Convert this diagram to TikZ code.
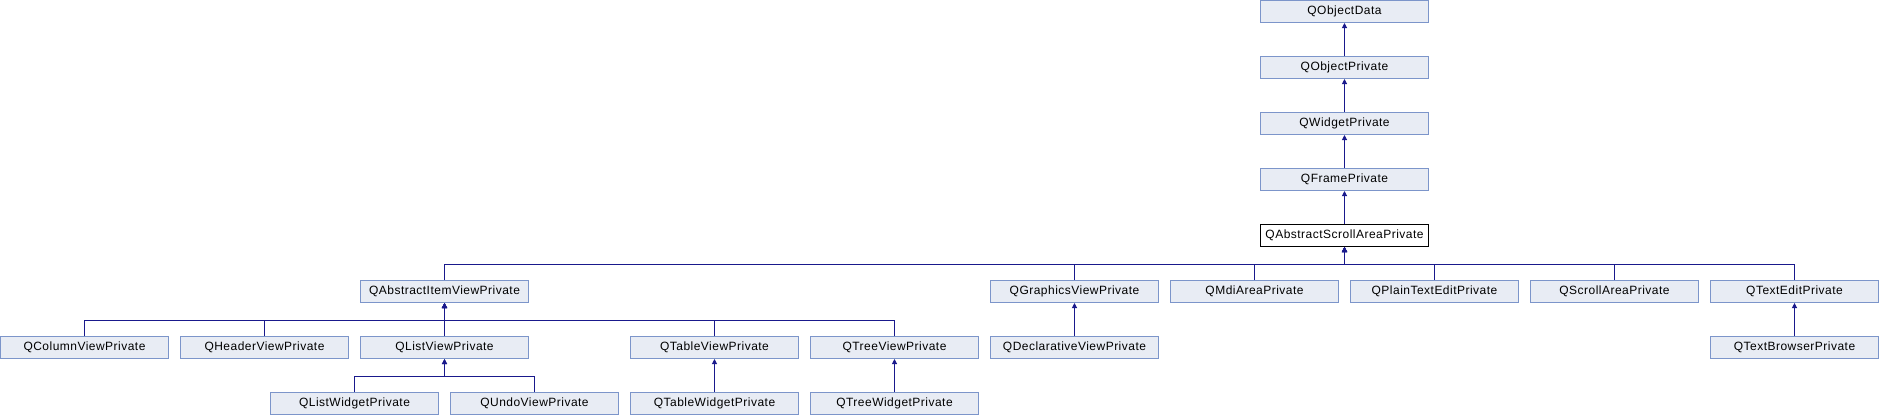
\documentclass[tikz,border=0pt]{standalone}
\usepackage{fontspec}
\usepackage{tikz}
\usepackage{xcolor}
\usetikzlibrary{arrows.meta}
\newfontfamily\boxfont[LetterSpace=4]{Liberation Sans}

\definecolor{boxfill}{RGB}{232,236,244}
\definecolor{boxline}{RGB}{124,149,202}
\definecolor{edgeblue}{RGB}{25,25,140}

\tikzset{
  classbox/.style={draw=boxline,fill=boxfill,line width=1pt,minimum width=168pt,
    minimum height=22pt,inner sep=0pt,font=\boxfont\fontsize{12}{14}\selectfont},
  thisbox/.style={classbox,draw=black,fill=white},
  inherit/.style={draw=edgeblue,line width=1pt,-{Triangle[length=5pt,width=5pt]}}
}

\begin{document}
\begin{tikzpicture}[x=1pt,y=-1pt]
        \useasboundingbox (0,0) rectangle (1880,416);

        % Draw the chain at the top
        \node[classbox] (objdata) at (1344.5,11.5) {QObjectData};
        \node[classbox] (objpriv) at (1344.5,67.5) {QObjectPrivate};
        \node[classbox] (widgetpriv) at (1344.5,123.5) {QWidgetPrivate};
        \node[classbox] (framepriv) at (1344.5,179.5) {QFramePrivate};
        \node[thisbox] (scrollareapriv) at (1344.5,235.5) {QAbstractScrollAreaPrivate};

        % Draw the direct subclasses
        \node[classbox] (itemviewpriv) at (444.5,291.5) {QAbstractItemViewPrivate};
        \node[classbox] (graphicsviewpriv) at (1074.5,291.5) {QGraphicsViewPrivate};
        \node[classbox] (mdiareapriv) at (1254.5,291.5) {QMdiAreaPrivate};
        \node[classbox] (plaintextpriv) at (1434.5,291.5) {QPlainTextEditPrivate};
        \node[classbox] (scrollpriv) at (1614.5,291.5) {QScrollAreaPrivate};
        \node[classbox] (texteditpriv) at (1794.5,291.5) {QTextEditPrivate};

        % Draw the next row
        \node[classbox] (columnviewpriv) at (84.5,347.5) {QColumnViewPrivate};
        \node[classbox] (headerviewpriv) at (264.5,347.5) {QHeaderViewPrivate};
        \node[classbox] (listviewpriv) at (444.5,347.5) {QListViewPrivate};
        \node[classbox] (tableviewpriv) at (714.5,347.5) {QTableViewPrivate};
        \node[classbox] (treeviewpriv) at (894.5,347.5) {QTreeViewPrivate};
        \node[classbox] (declviewpriv) at (1074.5,347.5) {QDeclarativeViewPrivate};
        \node[classbox] (browserpriv) at (1794.5,347.5) {QTextBrowserPrivate};

        % Draw the bottom row
        \node[classbox] (listwidgetpriv) at (354.5,403.5) {QListWidgetPrivate};
        \node[classbox] (undoviewpriv) at (534.5,403.5) {QUndoViewPrivate};
        \node[classbox] (tablewidgetpriv) at (714.5,403.5) {QTableWidgetPrivate};
        \node[classbox] (treewidgetpriv) at (894.5,403.5) {QTreeWidgetPrivate};

        % Draw the inheritance arrows
        \draw[inherit] (objpriv) -- (objdata);
        \draw[inherit] (widgetpriv) -- (objpriv);
        \draw[inherit] (framepriv) -- (widgetpriv);
        \draw[inherit] (scrollareapriv) -- (framepriv);
        \foreach \child in {itemviewpriv,graphicsviewpriv,mdiareapriv,plaintextpriv,scrollpriv,texteditpriv}
            \draw[inherit] (\child.north) -- ++(0,-16) -| (scrollareapriv.south);
        \foreach \child in {columnviewpriv,headerviewpriv,listviewpriv,tableviewpriv,treeviewpriv}
            \draw[inherit] (\child.north) -- ++(0,-16) -| (itemviewpriv.south);
        \foreach \child in {listwidgetpriv,undoviewpriv}
            \draw[inherit] (\child.north) -- ++(0,-16) -| (listviewpriv.south);
        \draw[inherit] (tablewidgetpriv) -- (tableviewpriv);
        \draw[inherit] (treewidgetpriv) -- (treeviewpriv);
        \draw[inherit] (declviewpriv) -- (graphicsviewpriv);
        \draw[inherit] (browserpriv) -- (texteditpriv);
    \end{tikzpicture}
\end{document}
